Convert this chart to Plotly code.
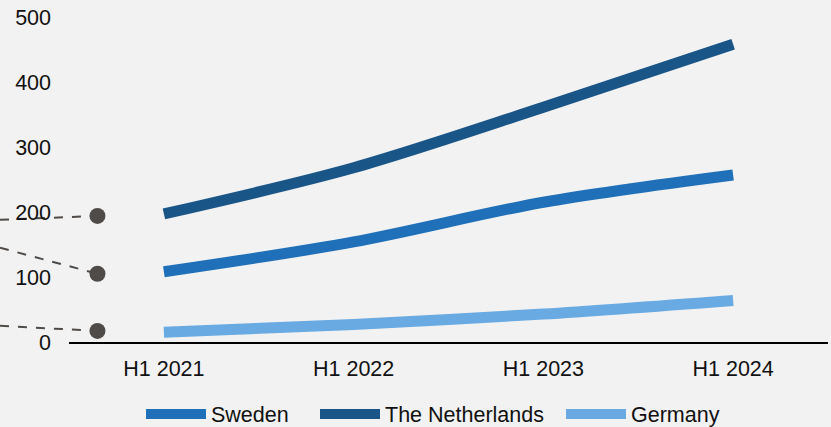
import plotly.graph_objects as go

# ---- data ----
categories = ["H1 2021", "H1 2022", "H1 2023", "H1 2024"]
series_names = ["Sweden", "The Netherlands", "Germany"]
sweden = [108, 154, 215, 257]
netherlands = [197, 268, 361, 458]
germany = [15, 27, 43, 64]

# leader-line callouts at the left of the chart (value at the dot, value where the line leaves the chart)
callout_dot_values = [194, 105, 17]
callout_edge_values = [188, 145, 25]
callout_position = -0.35

y_ticks = [0, 100, 200, 300, 400, 500]

# ---- layout constants ----
W, H = 831, 427
ML, MR, MT, MB = 69, 3, 17, 85
X_RANGE = [-0.5, 3.5]
Y_RANGE = [0, 500]
plot_w = W - ML - MR

FONT = "Liberation Sans, Arial, sans-serif"
COLORS = ["#1F70B8", "#1A5587", "#69AAE3"]
C_DOT = "#4F4B48"
LEGEND_X_PX = [141, 315, 561]
LEGEND_Y_PX = 414

x_idx = list(range(len(categories)))
legend_ids = ["legend", "legend2", "legend3"]

fig = go.Figure()
for name, vals, col, lg in zip(series_names, [sweden, netherlands, germany], COLORS, legend_ids):
    fig.add_trace(go.Scatter(
        x=x_idx, y=vals, name=name, mode="lines", legend=lg,
        line=dict(color=col, width=11, shape="spline", smoothing=0.9),
        hoverinfo="x+y+name",
    ))

fig.add_trace(go.Scatter(
    x=[callout_position] * len(callout_dot_values), y=callout_dot_values,
    mode="markers", marker=dict(size=16, color=C_DOT),
    showlegend=False, cliponaxis=False, hoverinfo="skip",
))

def to_px(v):
    return (v - X_RANGE[0]) / (X_RANGE[1] - X_RANGE[0])

def to_py(v):
    return (v - Y_RANGE[0]) / (Y_RANGE[1] - Y_RANGE[0])

shapes = []
left_edge = -ML / plot_w
for dv, ev in zip(callout_dot_values, callout_edge_values):
    shapes.append(dict(
        type="line", xref="paper", yref="paper",
        x0=left_edge, y0=to_py(ev), x1=to_px(callout_position), y1=to_py(dv),
        line=dict(color=C_DOT, width=2, dash="dash"), layer="below",
    ))

legend_common = dict(orientation="h", xref="container", yref="container",
                     xanchor="left", yanchor="middle",
                     y=1 - LEGEND_Y_PX / H, font=dict(size=21.5),
                     bgcolor="rgba(0,0,0,0)", itemwidth=60)

fig.update_layout(
    width=W, height=H,
    margin=dict(l=ML, r=MR, t=MT, b=MB),
    paper_bgcolor="#F2F2F2", plot_bgcolor="#F2F2F2",
    font=dict(family=FONT, size=21.5, color="#111111"),
    showlegend=True,
    legend=dict(x=LEGEND_X_PX[0] / W, **legend_common),
    legend2=dict(x=LEGEND_X_PX[1] / W, **legend_common),
    legend3=dict(x=LEGEND_X_PX[2] / W, **legend_common),
    shapes=shapes,
    xaxis=dict(range=X_RANGE, tickmode="array", tickvals=x_idx, ticktext=categories,
               showgrid=False, zeroline=False, showline=True, linecolor="#000000",
               linewidth=2, ticks="", ticklabelstandoff=6),
    yaxis=dict(range=Y_RANGE, tickmode="array", tickvals=y_ticks,
               showgrid=False, zeroline=False, showline=False, ticks="",
               ticklabelstandoff=17),
)

fig.write_html("out.html", config={"displayModeBar": False},
               post_script="document.body.style.margin='0px';")
